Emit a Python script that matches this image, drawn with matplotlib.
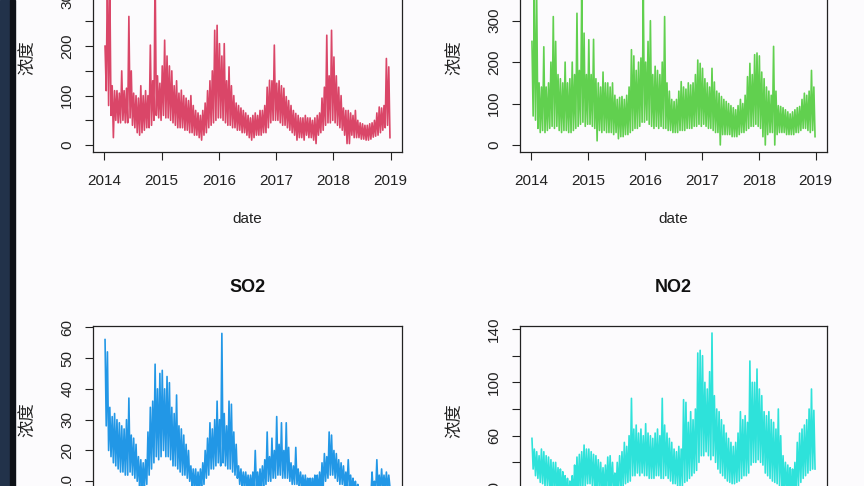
import numpy as np
import matplotlib
matplotlib.use("Agg")
import matplotlib.pyplot as plt
from matplotlib.patches import Rectangle

# half-month readings 2014-2018 (upper / lower edge of the daily band)
pm25_hi = [200,350,330,120,110,110,105,150,110,115,260,150,105,100,95,120,100,110,100,202,130,355,140,125,
           160,212,180,160,150,120,130,105,111,100,95,90,100,80,70,65,60,70,85,110,130,150,232,242,
           205,180,205,130,158,120,100,85,80,75,70,65,60,55,60,65,60,70,70,80,117,131,130,202,
           125,130,120,115,98,90,80,70,64,60,55,55,60,55,55,50,55,60,65,95,117,222,140,232,
           178,140,117,100,75,70,70,65,60,70,50,45,43,40,40,43,45,50,65,77,75,80,175,158]
pm25_lo = [110,80,60,15,50,45,45,50,45,45,55,40,35,25,20,25,30,35,35,40,50,60,55,50,
           60,55,55,50,45,40,35,35,35,30,30,25,25,20,20,15,10,20,25,35,40,45,50,55,
           55,50,45,40,40,35,35,30,30,25,25,20,15,10,15,20,20,20,25,25,35,45,50,50,
           50,45,40,40,35,30,25,20,10,15,15,10,20,15,15,10,3,20,25,30,40,45,45,50,
           45,40,35,30,20,3,3,20,15,15,15,12,12,10,10,12,16,18,20,25,30,35,40,15]

pm10_hi = [250,360,350,150,140,237,140,150,200,310,250,170,160,150,200,150,160,200,170,318,180,360,270,170,
           254,170,255,160,150,140,176,150,150,140,150,120,110,115,117,110,120,140,230,215,180,200,210,360,
           200,250,300,170,190,180,170,200,310,150,130,110,105,110,130,153,140,135,150,145,150,170,205,197,
           185,160,150,140,185,152,130,125,117,110,105,100,95,90,85,95,110,100,120,165,197,170,218,222,
           215,176,160,140,130,120,238,130,95,93,90,85,80,75,80,85,90,93,110,125,120,130,180,140]
pm10_lo = [70,60,40,30,35,30,35,40,45,40,45,35,30,35,35,30,30,35,40,45,50,55,45,50,
           50,45,40,10,35,30,35,30,30,30,25,30,15,20,20,25,25,30,35,40,40,45,55,55,
           60,50,45,40,45,40,45,40,40,35,35,30,30,30,35,35,35,40,40,40,45,45,50,45,
           50,45,40,40,35,30,30,0,25,25,25,25,20,20,20,25,30,30,35,40,45,45,50,45,
           40,20,0,25,30,30,0,25,30,30,30,25,25,25,25,30,30,35,40,40,35,30,35,20]

so2_hi = [56,52,34,31,32,30,29,28,27,30,37,25,24,22,18,17,16,17,26,34,36,48,40,45,
          46,40,44,42,34,32,38,28,27,25,22,20,15,14,14,13,14,16,20,24,29,27,30,36,
          30,58,32,28,36,35,26,22,15,14,13,13,12,12,13,20,13,14,15,17,26,18,24,20,
          31,22,29,20,29,21,16,15,21,14,13,12,12,11,11,11,12,12,13,16,19,18,26,25,
          20,19,17,16,15,13,17,12,11,10,9,8,8,8,8,8,13,10,17,12,14,12,13,12]
so2_lo = [28,20,18,16,15,14,13,13,12,12,13,12,11,10,8,8,8,9,12,14,16,18,17,18,
          20,18,18,17,15,15,14,13,12,12,11,10,8,7,7,7,8,9,11,12,14,14,15,16,
          15,16,15,14,14,13,12,11,9,8,8,8,7,7,7,8,7,8,8,9,10,10,11,11,
          12,12,11,11,11,10,9,9,9,8,8,7,7,6,6,6,6,6,7,8,10,11,12,12,
          11,10,9,9,8,8,8,7,6,6,5,5,5,5,5,5,6,6,7,7,7,7,7,8]

no2_hi = [58,50,48,45,50,48,45,44,42,40,40,36,35,33,30,28,26,30,38,44,46,48,53,50,
          50,48,46,45,42,40,36,38,44,45,40,32,40,45,48,55,52,60,88,65,68,62,65,60,
          69,62,60,58,62,65,60,88,68,62,58,55,50,48,52,50,87,85,70,78,72,80,122,124,
          120,100,95,108,137,90,80,78,72,68,62,58,55,52,55,62,78,72,75,70,116,100,100,110,
          95,90,78,75,78,72,70,65,80,60,45,40,38,36,35,40,55,62,65,68,72,80,95,79]
no2_lo = [35,30,28,25,24,22,22,20,20,18,18,16,15,14,12,12,10,12,16,18,20,22,22,24,
          24,22,20,20,18,18,16,18,20,20,18,15,18,20,22,24,25,26,30,30,32,30,32,30,
          30,28,28,28,30,30,28,28,30,28,26,24,24,22,22,22,25,26,28,30,32,34,40,45,
          45,48,45,42,45,40,35,32,30,28,26,25,24,24,25,26,28,30,30,32,38,40,40,42,
          40,38,32,30,28,26,25,24,22,20,18,16,15,15,15,16,22,25,28,30,32,34,35,35]

years = [2014, 2015, 2016, 2017, 2018, 2019]

W, H = 864, 486
BG = "#fcfbfd"

plt.rcParams["font.family"] = ["Liberation Sans", "DejaVu Sans"]

fig = plt.figure(figsize=(W / 100, H / 100), dpi=100, facecolor=BG)


def px(l, t, w, h):
    # pixel box -> figure coords
    return [l / W, 1 - (t + h) / H, w / W, h / H]


def series(hi, lo):
    n = len(hi)
    t = 2014 + (np.arange(n) + 0.25) / 24
    x = np.column_stack([t, t + 0.5 / 24]).ravel()
    y = np.column_stack([hi, lo]).ravel()
    return x, y


panels = [
    # box (l, t, w, h), data, colour, ylim, ticks, labelled ticks, title
    ((93, -36, 309, 188), (pm25_hi, pm25_lo), "#DA4668", (-14, 366), range(0, 351, 50), [0, 100, 200, 300], None),
    ((520, -36, 307, 188), (pm10_hi, pm10_lo), "#61D04F", (-17, 437), range(0, 401, 100), [0, 100, 200, 300, 400], None),
    ((93, 325.7, 309, 187), (so2_hi, so2_lo), "#2297E6", (-0.2, 60.5), range(0, 61, 10), list(range(0, 61, 10)), "SO2"),
    ((520, 325.7, 307, 190), (no2_hi, no2_lo), "#2EE2DA", (0, 142.5), range(20, 141, 20), [20, 60, 100, 140], "NO2"),
]

for box, (hi, lo), col, ylim, ticks, lab, title in panels:
    l, t, w, h = box
    ax = fig.add_axes(px(l, t, w, h))
    ax.set_facecolor(BG)
    x, y = series(hi, lo)
    ax.plot(x, y, color=col, lw=1.2)
    ax.set_xlim(2013.8, 2019.2)
    ax.set_ylim(*ylim)
    ax.set_xticks(years)
    ax.set_xticklabels([str(v) for v in years])
    ax.set_yticks(list(ticks))
    ax.set_yticklabels([str(v) if v in lab else "" for v in ticks],
                       rotation=90, va="center", ha="right")
    ax.tick_params(length=5.5, width=0.8, color="#222222", labelsize=11,
                   labelcolor="#222222")
    ax.tick_params(axis="x", pad=10)
    ax.tick_params(axis="y", pad=8)
    for s in ax.spines.values():
        s.set_color("#222222")
        s.set_linewidth(0.9)
    cx = l + w / 2
    fig.text(cx / W, 1 - (t + h + 67) / H, "date", ha="center", va="center",
             fontsize=11, color="#222222")
    fig.text((l - 65) / W, 1 - (t + h / 2) / H, "浓度", ha="center", va="center",
             rotation=90, fontsize=12.5, color="#222222",
             family=["Noto Sans CJK SC", "DejaVu Sans"])
    if title:
        fig.text(cx / W, 1 - 288 / H, title, ha="center", va="center",
                 fontsize=13, fontweight="bold", color="#111111")

# dark window edge on the left
fig.patches.append(Rectangle((0, 0), 10 / W, 1, transform=fig.transFigure,
                             color="#22324a", zorder=5))
fig.patches.append(Rectangle((10 / W, 0), 5 / W, 1, transform=fig.transFigure,
                             color="#0e1117", zorder=5))

fig.savefig("out.png", dpi=100, facecolor=BG)
